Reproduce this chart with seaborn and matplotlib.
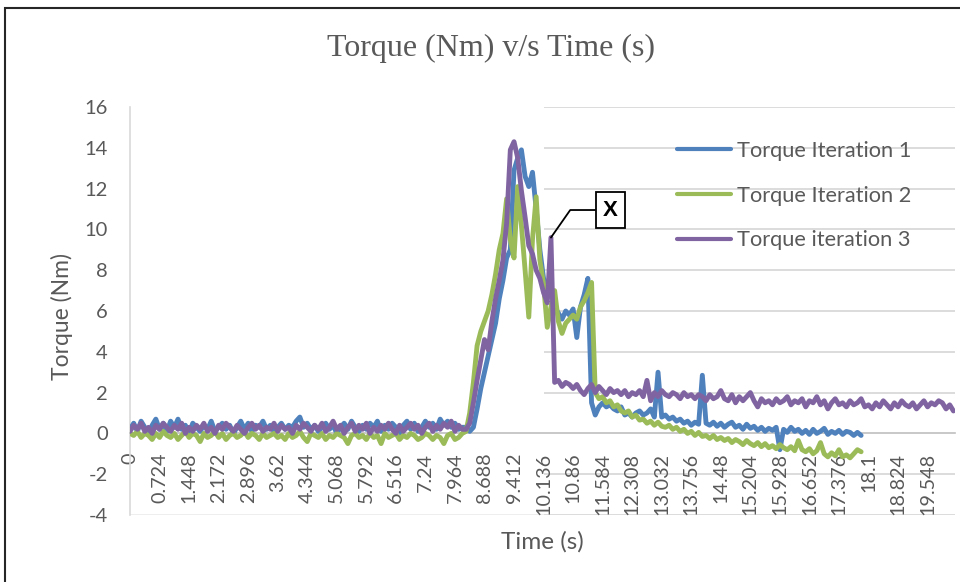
import numpy as np
import pandas as pd
import matplotlib
matplotlib.use("Agg")
import matplotlib.pyplot as plt
import seaborn as sns
from matplotlib.patches import Rectangle

# ---------------- data ----------------
TITLE = "Torque (Nm) v/s Time (s)"
X_LABEL = "Time (s)"
Y_LABEL = "Torque (Nm)"
SERIES_NAMES = ["Torque Iteration 1", "Torque Iteration 2", "Torque iteration 3"]
SERIES_COLORS = ["#4F81BD", "#9BBB59", "#8064A2"]
SAMPLE_STEP_S = 0.0905          # time between samples (8 samples per axis label)
X_TICK_LABELS = ["0", "0.724", "1.448", "2.172", "2.896", "3.62", "4.344", "5.068",
                 "5.792", "6.516", "7.24", "7.964", "8.688", "9.412", "10.136",
                 "10.86", "11.584", "12.308", "13.032", "13.756", "14.48", "15.204",
                 "15.928", "16.652", "17.376", "18.1", "18.824", "19.548"]
Y_TICKS = [-4, -2, 0, 2, 4, 6, 8, 10, 12, 14, 16]

TORQUE_ITER_1 = [
    0.2, 0.5, 0.1, 0.6, 0.3, 0.0, 0.4, 0.7, 0.2, 0.5,
    0.1, 0.6, 0.3, 0.7, 0.2, 0.4, 0.0, 0.5, 0.3, 0.1,
    0.4, 0.2, 0.6, 0.1, 0.3, 0.5, 0.2, 0.4, 0.0, 0.3,
    0.6, 0.2, 0.5, 0.1, 0.4, 0.3, 0.6, 0.2, 0.4, 0.1,
    0.3, 0.5, 0.2, 0.4, 0.3, 0.6, 0.8, 0.3, 0.5, 0.2,
    0.4, 0.1, 0.3, 0.5, 0.2, 0.4, 0.0, 0.3, 0.5, 0.2,
    0.6, 0.3, 0.1, 0.4, 0.2, 0.5, 0.3, 0.6, 0.1, 0.4,
    0.2, 0.5, 0.3, 0.0, 0.4, 0.6, 0.2, 0.5, 0.1, 0.3,
    0.6, 0.3, 0.5, 0.2, 0.7, 0.4, 0.6, 0.3, 0.5, 0.2,
    0.3,
    0.3, 0.1, 0.3, 1.2, 2.2, 3.0, 3.8, 4.6, 5.4, 6.6,
    7.5, 8.6, 9.0, 12.9, 13.5, 13.9, 12.6, 12.1, 12.8, 11.0,
    9.0, 7.6, 7.2, 6.8, 6.2, 5.9, 5.6, 6.0, 5.8, 6.1,
    4.7, 6.2, 6.8, 7.6,
    1.5, 0.9, 1.3, 1.5, 1.3, 1.4, 1.2, 1.1, 1.3, 0.9,
    1.0, 0.8, 1.0, 1.1, 0.9, 1.0, 1.2, 0.8, 3.0, 0.8,
    0.9, 0.7, 0.8, 0.6, 0.7, 0.5, 0.6, 0.4, 0.55, 0.45,
    2.85, 0.5, 0.4, 0.55, 0.35, 0.5, 0.3, 0.45, 0.55, 0.3,
    0.4, 0.2, 0.45, 0.25, 0.35, 0.15, 0.3, 0.1, 0.25, 0.15,
    0.3, -0.8, 0.2, 0.05, 0.3, 0.1, 0.2, 0.0, 0.15, -0.05,
    0.2, 0.0, 0.1, 0.25, -0.05, 0.1, 0.0, 0.15, -0.05, 0.1,
    0.05, -0.1, 0.05, -0.1,
]

TORQUE_ITER_2 = [
    0.0, -0.1, 0.1, -0.2, 0.0, -0.1, -0.3, 0.0, -0.2, 0.1,
    -0.1, -0.2, 0.0, -0.3, -0.1, 0.1, -0.2, 0.0, -0.1, -0.4,
    0.0, -0.2, -0.1, 0.1, -0.2, 0.0, -0.3, -0.1, 0.0, -0.2,
    -0.1, 0.1, -0.2, 0.0, -0.1, -0.3, 0.0, -0.2, -0.1, 0.0,
    -0.2, -0.1, -0.3, 0.0, -0.2, -0.1, 0.1, -0.2, -0.4, 0.0,
    -0.1, -0.2, 0.0, -0.3, -0.1, -0.2, 0.0, -0.1, -0.2, -0.5,
    -0.1, 0.0, -0.2, -0.1, -0.3, 0.0, -0.2, -0.1, -0.5, 0.0,
    -0.2, -0.1, 0.0, -0.3, -0.1, -0.2, 0.0, -0.1, -0.3, -0.2,
    0.0, -0.1, -0.3, -0.1, -0.2, -0.5, -0.1, 0.0, -0.3, -0.2,
    0.0,
    0.1, 1.0, 2.5, 4.3, 5.0, 5.5, 6.0, 6.8, 7.8, 9.0,
    9.8, 11.5, 9.5, 8.6, 12.1, 10.2, 8.0, 5.7, 9.5, 11.6,
    8.5, 7.3, 5.2, 6.2, 7.0, 5.5, 4.9, 5.4, 5.6, 5.8,
    5.6, 6.2, 6.5, 6.9, 7.4,
    2.0, 1.7, 1.8, 1.5, 1.6, 1.3, 1.4, 1.1, 1.0, 1.1,
    0.8, 0.9, 0.65, 0.7, 0.5, 0.6, 0.4, 0.55, 0.35, 0.3,
    0.4, 0.2, 0.3, 0.1, 0.2, 0.0, 0.1, -0.1, 0.05, -0.15,
    -0.1, -0.25, -0.1, -0.3, -0.2, -0.35, -0.25, -0.45, -0.3, -0.4,
    -0.55, -0.35, -0.5, -0.6, -0.45, -0.65, -0.5, -0.7, -0.6, -0.75,
    -0.55, -0.7, -0.8, -0.65, -0.85, -0.35, -0.8, -0.9, -0.75, -1.0,
    -0.85, -0.45, -1.0, -1.15, -0.95, -1.1, -0.8, -1.15, -1.05, -1.2,
    -1.0, -0.8, -0.9,
]

TORQUE_ITER_3 = [
    0.1, 0.4, 0.2, 0.5, 0.1, 0.3, 0.0, 0.4, 0.2, 0.5,
    0.3, 0.1, 0.4, 0.2, 0.5, 0.0, 0.3, 0.1, 0.4, 0.2,
    0.5, 0.1, 0.3, 0.0, 0.4, 0.2, 0.5, 0.3, 0.1, 0.4,
    0.2, 0.0, 0.3, 0.5, 0.2, 0.4, 0.1, 0.3, 0.2, 0.5,
    0.1, 0.4, 0.2, 0.3, 0.0, 0.4, 0.2, 0.5, 0.3, 0.1,
    0.4, 0.2, 0.5, 0.1, 0.3, 0.6, 0.2, 0.4, 0.0, 0.3,
    0.5, 0.1, 0.4, 0.2, 0.5, 0.0, 0.3, 0.1, 0.4, 0.2,
    0.5, 0.2, 0.0, 0.4, 0.1, 0.3, 0.5, 0.2, 0.4, 0.0,
    0.3, 0.5, 0.1, 0.4, 0.2, 0.5, 0.3, 0.6, 0.1, 0.4,
    0.2,
    0.2, 0.5, 1.5, 2.6, 3.6, 4.6, 4.1, 5.5, 6.6, 7.5,
    8.5, 10.3, 13.9, 14.3, 13.5, 11.9, 10.6, 9.2, 8.8, 8.0,
    7.6, 6.9, 6.4, 9.6, 2.5, 2.6, 2.3, 2.5, 2.4, 2.2,
    2.4, 2.1, 1.9, 2.2, 2.4, 2.0, 2.3, 2.1, 1.9, 2.2,
    2.0, 2.1, 1.9, 2.1, 1.8, 2.0, 1.9, 2.1, 1.8, 2.6,
    1.6, 2.0, 1.8, 2.1, 1.9, 1.8, 2.0, 1.9, 1.7, 2.0,
    1.8, 1.9, 1.7, 1.9, 1.8, 1.6, 1.9, 1.7, 1.8, 2.1,
    1.7, 1.6, 1.9, 1.5, 1.8, 1.6, 1.8, 2.0, 1.6, 1.3,
    1.7, 1.5, 1.6, 1.4, 1.7, 1.5, 1.6, 1.8, 1.4, 1.6,
    1.5, 1.7, 1.3, 1.6, 1.5, 1.8, 1.4, 1.6, 1.2, 1.5,
    1.7, 1.4, 1.5, 1.3, 1.6, 1.4, 1.5, 1.7, 1.3, 1.4,
    1.2, 1.5, 1.3, 1.6, 1.4, 1.2, 1.5, 1.3, 1.6, 1.4,
    1.3, 1.5, 1.2, 1.4, 1.6, 1.3, 1.5, 1.4, 1.6, 1.5,
    1.2, 1.4, 1.1,
]
ANNOT_TEXT = "X"
ANNOT_SERIES = 2          # the "X" callout points at iteration 3's spike

# ---------------- build table ----------------
frames = []
for name, vals in zip(SERIES_NAMES, [TORQUE_ITER_1, TORQUE_ITER_2, TORQUE_ITER_3]):
    t = np.arange(len(vals)) * SAMPLE_STEP_S
    frames.append(pd.DataFrame({"Time": t, "Torque": vals, "Series": name}))
df = pd.concat(frames, ignore_index=True)

# ---------------- style ----------------
sns.set_style("white")
plt.rcParams["font.family"] = ["Lato", "DejaVu Sans"]
TXT = "#595959"
GRID = "#D9D9D9"

W, H = 960, 582
fig = plt.figure(figsize=(W / 100, H / 100), dpi=100)
ax_l, ax_r, ax_t, ax_b = 130, 955, 107, 515
ax = fig.add_axes([ax_l / W, 1 - ax_b / H, (ax_r - ax_l) / W, (ax_b - ax_t) / H])

sns.lineplot(data=df, x="Time", y="Torque", hue="Series", hue_order=SERIES_NAMES,
             palette=SERIES_COLORS, linewidth=3.5, errorbar=None, ax=ax,
             legend=True, zorder=3)

x_max = 20.22
ax.set_xlim(0, x_max)
ax.set_ylim(Y_TICKS[0], Y_TICKS[-1])

# gridlines (only visible in the right part of the plot area, as in the reference)
grid_start = float(X_TICK_LABELS[14])
ax.hlines([y for y in Y_TICKS if y != 0], grid_start, x_max, color=GRID, lw=1.3, zorder=0)
ax.hlines([Y_TICKS[0]], 0, grid_start, color="#EDEDED", lw=1.3, zorder=0)

for s in ["top", "right"]:
    ax.spines[s].set_visible(False)
ax.spines["left"].set_color(GRID)
ax.spines["left"].set_linewidth(1.2)
ax.spines["bottom"].set_position(("data", 0))
ax.spines["bottom"].set_color("#BFBFBF")
ax.spines["bottom"].set_linewidth(1.2)

ax.set_yticks(Y_TICKS)
ax.set_yticklabels([str(v) for v in Y_TICKS])
ax.set_xticks([float(s) for s in X_TICK_LABELS])
ax.set_xticklabels(X_TICK_LABELS, rotation=90)
ax.tick_params(axis="y", length=0, pad=16, labelsize=14.5, labelcolor=TXT)
ax.tick_params(axis="x", length=0, pad=14, labelsize=14.2, labelcolor=TXT)
ax.set_xlabel("")
ax.set_ylabel("")

# axis titles and chart title
fig.text(542.5 / W, 1 - 542 / H, X_LABEL, ha="center", va="center", fontsize=17.5, color=TXT)
fig.text(62 / W, 1 - 316 / H, Y_LABEL, ha="center", va="center", rotation=90,
         fontsize=16.5, color=TXT)
fig.text(491 / W, 1 - 48 / H, TITLE, ha="center", va="center", fontsize=23,
         family="Liberation Serif", color=TXT)

# legend
handles, labels = ax.get_legend_handles_labels()
ax.get_legend().remove()
leg = ax.legend(handles, labels, loc="upper left", bbox_to_anchor=(677 / W, 1 - 141 / H),
                bbox_transform=fig.transFigure, frameon=False, fontsize=15.7,
                handlelength=2.48, handletextpad=0.27, labelspacing=1.13,
                borderaxespad=0, borderpad=0)
for line in leg.get_lines():
    line.set_linewidth(3.0)
for txt in leg.get_texts():
    txt.set_color(TXT)

# "X" callout
vals3 = np.asarray([TORQUE_ITER_1, TORQUE_ITER_2, TORQUE_ITER_3][ANNOT_SERIES])
after_peak = int(np.argmax(vals3)) + 1
spike_idx = after_peak + int(np.argmax(np.diff(vals3[after_peak:]) > 2)) + 1
ax.annotate(ANNOT_TEXT, xy=(spike_idx * SAMPLE_STEP_S, vals3[spike_idx]), xytext=(11.78, 10.95),
            ha="center", va="center", fontsize=16, fontweight="bold",
            family="Liberation Sans", color="black", zorder=6,
            bbox=dict(boxstyle="square,pad=0.33", fc="white", ec="black", lw=1.3),
            arrowprops=dict(arrowstyle="-", color="black", lw=1.3, shrinkA=0, shrinkB=0,
                            connectionstyle="angle,angleA=0,angleB=55,rad=0"))

# outer chart border
fig.add_artist(Rectangle((5 / W, -0.05), 1.2, (1 - 8 / H) + 0.05, transform=fig.transFigure,
                         fill=False, ec="#262626", lw=1.5))

fig.savefig("out.png", dpi=100)
